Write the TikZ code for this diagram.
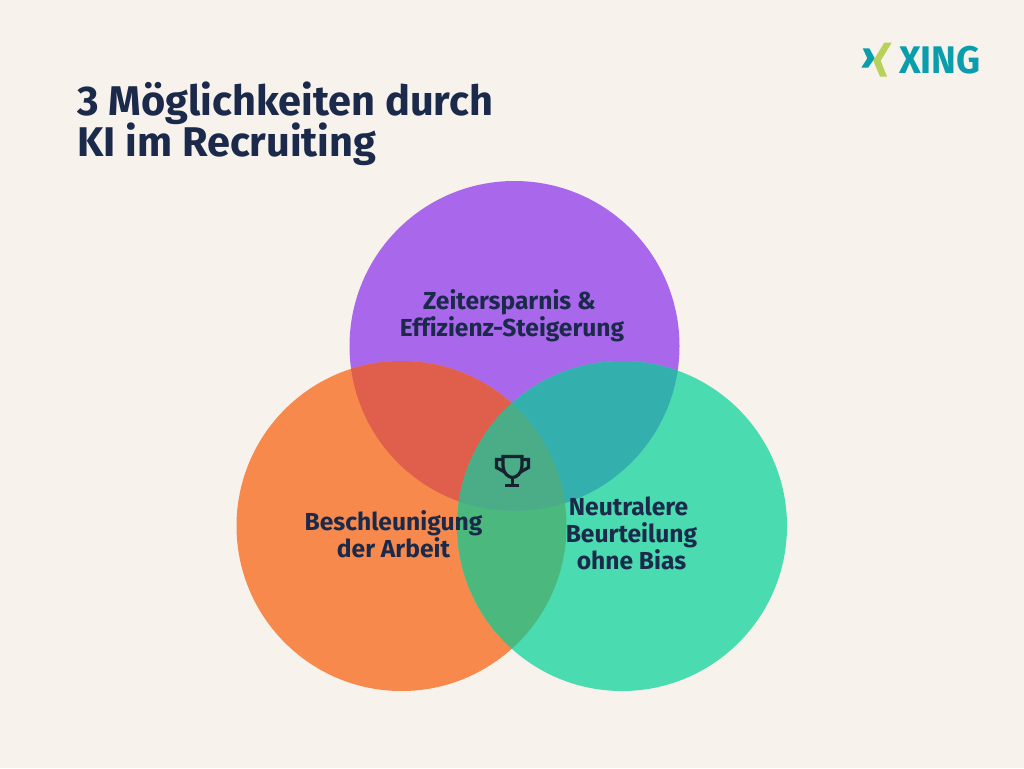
\documentclass[tikz,border=0pt]{standalone}
\usepackage{fontspec}
\setmainfont{Fira Sans}
\definecolor{bgc}{HTML}{F7F2EC}
\definecolor{purp}{HTML}{A968EC}
\definecolor{oran}{HTML}{F7894D}
\definecolor{gree}{HTML}{4ADBB0}
\definecolor{po}{HTML}{DF5F4C}
\definecolor{pg}{HTML}{33B0AE}
\definecolor{og}{HTML}{4BB97E}
\definecolor{pog}{HTML}{4AAD88}
\definecolor{navy}{HTML}{1B2A4A}
\definecolor{teal}{HTML}{0A9EAD}
\definecolor{lime}{HTML}{B7D25A}
\definecolor{ink}{HTML}{16232E}
\tikzset{
  x=1pt,y=-1pt,
  lab/.style={font=\bfseries\fontsize{24.6}{26.7}\selectfont,text=navy,align=center,inner sep=0pt},
  ttl/.style={font=\bfseries\fontsize{41.5}{41.5}\selectfont,text=navy,anchor=base west,inner sep=0pt},
  cup/.style={draw=ink,line width=3.2pt,fill=none,line join=miter}
}
\def\cP{(514.5,346) circle[radius=165]}
\def\cO{(401.5,526) circle[radius=165]}
\def\cG{(622,526) circle[radius=165]}
\begin{document}
\begin{tikzpicture}
\useasboundingbox (0,0) rectangle (1024,768);
\fill[bgc] (0,0) rectangle (1024,768);
\fill[purp] \cP;
\fill[oran] \cO;
\fill[gree] \cG;
\begin{scope}\clip \cP; \fill[po] \cO; \fill[pg] \cG; \end{scope}
\begin{scope}\clip \cO; \fill[og] \cG; \end{scope}
\begin{scope}\clip \cP; \clip \cO; \fill[pog] \cG; \end{scope}
\node[ttl] (t1) at (77,115) {3 Möglichkeiten durch};
\node[ttl] (t2) at (77,156) {KI im Recruiting};
\node[lab] (a) at (512,316) {Zeitersparnis \&\hspace*{5pt}\\Ef\kern0pt f\kern0pt izienz-Steigerung};
\node[lab] (b) at (393.5,534) {Beschleunigung\\der Arbeit};
\node[lab] (c) at (631.5,533.5) {Neutralere\hspace*{6pt}\\Beurteilung\\ohne Bias};
% trophy
\draw[cup] (503,456.5) -- (522,456.5) -- (522,466) .. controls (522,473) and (516.5,477.5) .. (512.5,477.5) .. controls (508.5,477.5) and (503,473) .. (503,466) -- cycle;
\draw[cup] (503,459.5) -- (496.5,459.5) -- (496.5,467.5) -- (504.5,472);
\draw[cup] (522,459.5) -- (528.5,459.5) -- (528.5,467.5) -- (520.5,472);
\draw[cup] (512.5,477.5) -- (512.5,485.5);
\draw[cup] (505,485.5) -- (519,485.5);
% logo
\fill[teal] (862.7,48.3) -- (869.3,48.3) -- (874.7,58.3) -- (868,67.7) -- (861.3,67.7) -- (867.3,58.3) -- cycle;
\fill[lime] (884.3,42.7) -- (891.7,42.7) -- (880.7,60.7) -- (887,76.7) -- (880,76.7) -- (873.3,60.7) -- cycle;
\node[inner sep=0pt,anchor=base west,text=teal,font=\bfseries\fontsize{38.5}{38.5}\selectfont,xscale=0.97] (x) at (899,73) {XING};
\end{tikzpicture}
\end{document}
